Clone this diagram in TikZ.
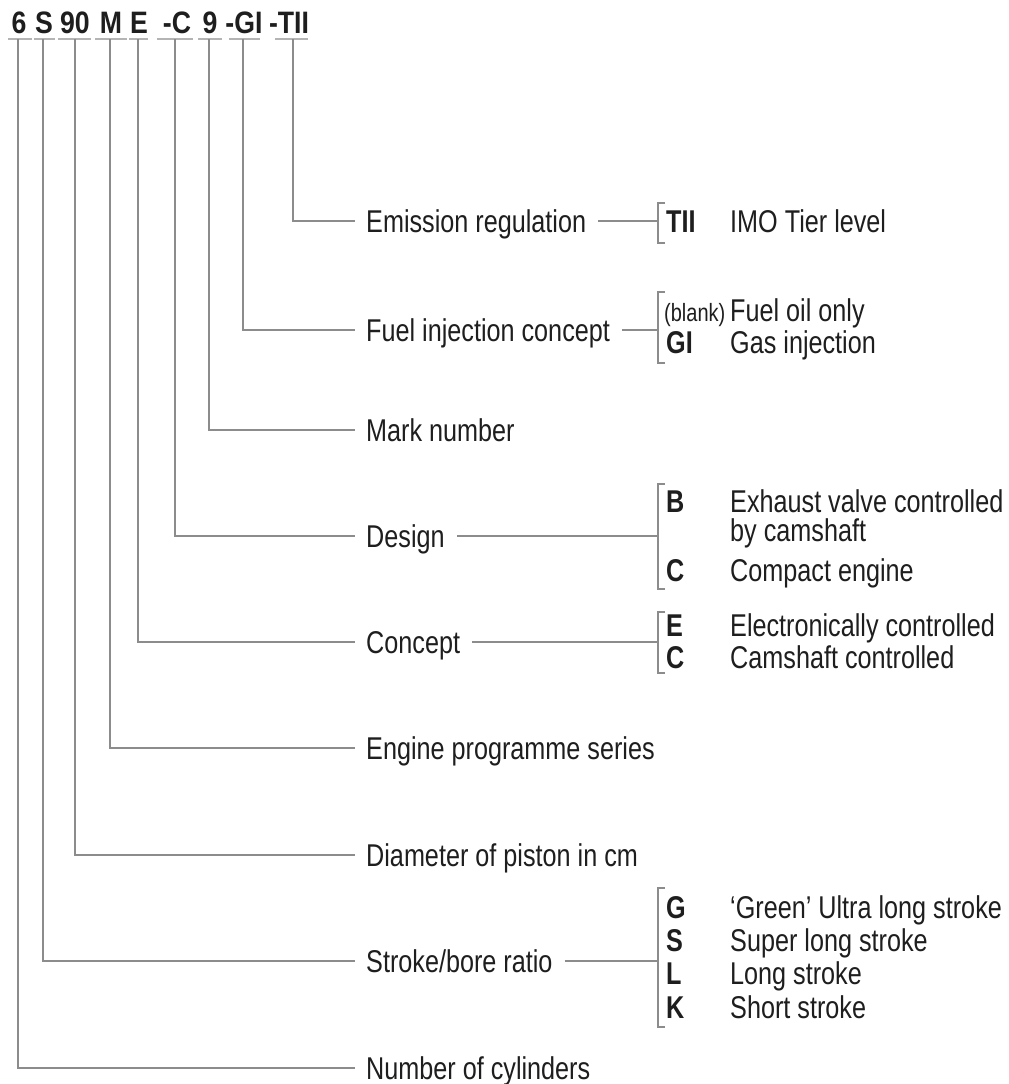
\documentclass[tikz,border=0pt]{standalone}
\usepackage{fontspec}
\setmainfont[FakeStretch=0.8]{Liberation Sans}
\newfontfamily\partfont[FakeStretch=0.86]{Liberation Sans}
\usetikzlibrary{calc}
\definecolor{ink}{HTML}{1E1E1E}
\definecolor{wire}{HTML}{8C8C8C}
\definecolor{rule}{HTML}{B4B4B4}
\begin{document}
\begin{tikzpicture}[x=1pt,y=-1pt,
  conn/.style={draw=wire,line width=1.8pt},
  uline/.style={draw=rule,line width=1.2pt},
  token/.style={inner sep=0pt,anchor=base,text=ink,font=\partfont\fontsize{31}{34}\selectfont\bfseries},
  lbl/.style={inner sep=0pt,anchor=base west,text=ink,font=\fontsize{31.5}{34}\selectfont},
  code/.style={inner sep=0pt,anchor=base west,text=ink,font=\fontsize{31.5}{34}\selectfont\bfseries},
  desc/.style={inner sep=0pt,anchor=base west,text=ink,font=\fontsize{31.5}{34}\selectfont},
  small/.style={inner sep=0pt,anchor=base west,text=ink,font=\fontsize{25}{27}\selectfont}]
\useasboundingbox[fill=white] (0,0) rectangle (1009,1084);

% engine designation
\node[token] (t6)   at (19,33)  {6};
\node[token] (tS)   at (44,33)  {S};
\node[token] (t90)  at (75,33)  {90};
\node[token] (tM)   at (111,33) {M};
\node[token] (tE)   at (139,33) {E};
\node[token] (tC)   at (177,33) {-C};
\node[token] (t9)   at (210,33) {9};
\node[token] (tGI)  at (244,33) {-GI};
\node[token] (tTII) at (289,33) {-TII};

% underlines below each part
\draw[uline] (8,39) -- (32,39);
\draw[uline] (34,39) -- (55,39);
\draw[uline] (58,39) -- (91,39);
\draw[uline] (95,39) -- (127,39);
\draw[uline] (129,39) -- (148,39);
\draw[uline] (157,39) -- (193,39);
\draw[uline] (198,39) -- (222,39);
\draw[uline] (229,39) -- (260,39);
\draw[uline] (275,39) -- (308,39);

% attachment points
\coordinate (u6)   at (18,39);
\coordinate (uS)   at (43,39);
\coordinate (u90)  at (75,39);
\coordinate (uM)   at (110,39);
\coordinate (uE)   at (138,39);
\coordinate (uC)   at (175,39);
\coordinate (u9)   at (209,39);
\coordinate (uGI)  at (243,39);
\coordinate (uTII) at (293,39);

\coordinate (eTII) at (355,221);
\coordinate (eGI)  at (355,330);
\coordinate (e9)   at (355,430);
\coordinate (eC)   at (355,536);
\coordinate (eE)   at (355,642);
\coordinate (eM)   at (355,748);
\coordinate (e90)  at (355,855);
\coordinate (eS)   at (355,961);
\coordinate (e6)   at (355,1068);

% labels
\node[lbl] (lTII) at (366,232)  {Emission regulation};
\node[lbl] (lGI)  at (366,341)  {Fuel injection concept};
\node[lbl] (l9)   at (366,441)  {Mark number};
\node[lbl] (lC)   at (366,547)  {Design};
\node[lbl] (lE)   at (366,653)  {Concept};
\node[lbl] (lM)   at (366,759)  {Engine programme series};
\node[lbl] (l90)  at (366,866)  {Diameter of piston in cm};
\node[lbl] (lS)   at (366,972)  {Stroke/bore ratio};
\node[lbl] (l6)   at (366,1079) {Number of cylinders};

% leader lines
\draw[conn] (uTII) |- (eTII);
\draw[conn] (uGI)  |- (eGI);
\draw[conn] (u9)   |- (e9);
\draw[conn] (uC)   |- (eC);
\draw[conn] (uE)   |- (eE);
\draw[conn] (uM)   |- (eM);
\draw[conn] (u90)  |- (e90);
\draw[conn] (uS)   |- (eS);
\draw[conn] (u6)   |- (e6);

% brackets
\coordinate (bTII) at (658,221);
\coordinate (bGI)  at (658,330);
\coordinate (bC)   at (658,536);
\coordinate (bE)   at (658,642);
\coordinate (bS)   at (658,961);
\draw[conn] (665,203) -- (658,203) -- (658,243) -- (665,243);
\draw[conn] (665,292) -- (658,292) -- (658,363) -- (665,363);
\draw[conn] (665,484) -- (658,484) -- (658,589) -- (665,589);
\draw[conn] (665,612) -- (658,612) -- (658,673) -- (665,673);
\draw[conn] (665,888) -- (658,888) -- (658,1027) -- (665,1027);

\draw[conn] ($(lTII.base east)+(12,-11)$) -- (bTII);
\draw[conn] ($(lGI.base east)+(12,-11)$) -- (bGI);
\draw[conn] ($(lC.base east)+(12,-11)$) -- (bC);
\draw[conn] ($(lE.base east)+(12,-11)$) -- (bE);
\draw[conn] ($(lS.base east)+(12,-11)$) -- (bS);

% options
\node[code] (cTII) at (666,232) {TII};
\node[desc] (dTII) at (730,232) {IMO Tier level};

\node[small] (cBl) at (664,321) {(blank)};
\node[desc] (dBl) at (730,321) {Fuel oil only};
\node[code] (cGI) at (666,353) {GI};
\node[desc] (dGI) at (730,353) {Gas injection};

\node[code] (cB) at (666,512) {B};
\node[desc] (dB1) at (730,512) {Exhaust valve controlled};
\node[desc] (dB2) at (730,541) {by camshaft};
\node[code] (cCc) at (666,581) {C};
\node[desc] (dCc) at (730,581) {Compact engine};

\node[code] (cEe) at (666,636) {E};
\node[desc] (dEe) at (730,636) {Electronically controlled};
\node[code] (cCs) at (666,668) {C};
\node[desc] (dCs) at (730,668) {Camshaft controlled};

\node[code] (cG) at (666,918) {G};
\node[desc] (dG) at (730,918) {`Green' Ultra long stroke};
\node[code] (cSs) at (666,951) {S};
\node[desc] (dSs) at (730,951) {Super long stroke};
\node[code] (cL) at (666,984) {L};
\node[desc] (dL) at (730,984) {Long stroke};
\node[code] (cK) at (666,1018) {K};
\node[desc] (dK) at (730,1018) {Short stroke};
\end{tikzpicture}
\end{document}
